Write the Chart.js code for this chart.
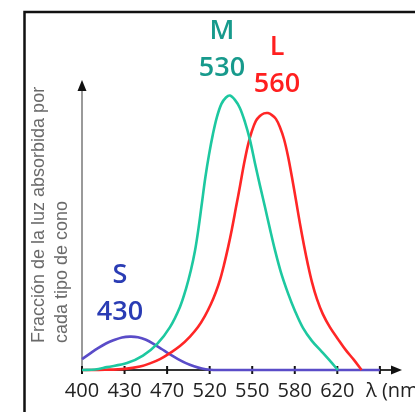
<!DOCTYPE html>
<html>
<head>
<meta charset="utf-8">
<script src="https://cdn.jsdelivr.net/npm/chart.js@4/dist/chart.umd.min.js"></script>
<style>
  html, body { margin: 0; padding: 0; background: #fff; }
  #wrap { width: 415px; height: 412px; }
</style>
</head>
<body>
<div id="wrap"><canvas id="conos"></canvas></div>
<script>
// eje x: marcas con sus longitudes de onda (la ultima no lleva texto)
const tickNm = [400, 430, 470, 520, 550, 580, 620, 660];
const tickLabels = ["400", "430", "470", "520", "550", "580", "620", ""];

// cono S (azul)
const sNm = [400, 405.6, 411.3, 416.9, 422.6, 428.2, 435.1, 442.6, 450.1, 457.6, 465.2, 473.4, 482.8, 492.1, 501.6, 510.9, 520.2, 526, 600, 660];
const sVal = [0.038, 0.057, 0.076, 0.092, 0.104, 0.113, 0.116, 0.114, 0.105, 0.09, 0.072, 0.054, 0.038, 0.024, 0.013, 0.005, 0.001, 0, 0, 0];

// cono M (verde)
const mNm = [400, 409.2, 417.6, 432.3, 447.3, 460.5, 473.4, 485.1, 492.1, 498, 502.7, 506.8, 510.9, 515, 519.2, 522.3, 525.1, 528.3, 531.5, 534.3, 537.8, 541.3, 544.9, 548.4, 551.9, 555.4, 559, 562.5, 566, 570.2, 575.2, 580.2, 587.7, 596.1, 605.5, 614, 620.5];
const mVal = [0, 0.002, 0.01, 0.024, 0.05, 0.09, 0.149, 0.219, 0.281, 0.347, 0.413, 0.49, 0.58, 0.67, 0.747, 0.819, 0.878, 0.924, 0.946, 0.953, 0.938, 0.91, 0.861, 0.799, 0.719, 0.642, 0.566, 0.49, 0.417, 0.34, 0.267, 0.205, 0.146, 0.101, 0.063, 0.028, 0];

// cono L (rojo)
const lNm = [400, 416.2, 430.4, 444.5, 453.9, 463.3, 473.4, 485.1, 496.9, 506.3, 514.5, 520.9, 524.4, 527.3, 530.1, 532.9, 535.7, 538.5, 541.4, 544.2, 547, 549.8, 552.6, 555.4, 558.3, 561.1, 563.9, 566.7, 569.5, 572.4, 575.2, 578, 581.1, 584.8, 588.6, 592.4, 596.1, 600.8, 606.4, 613, 620.5, 628, 635.6, 642.8];
const lVal = [0, 0.001, 0.004, 0.012, 0.023, 0.038, 0.059, 0.083, 0.116, 0.149, 0.188, 0.229, 0.271, 0.313, 0.365, 0.424, 0.49, 0.563, 0.639, 0.715, 0.781, 0.83, 0.865, 0.882, 0.891, 0.892, 0.885, 0.872, 0.844, 0.802, 0.743, 0.67, 0.59, 0.51, 0.434, 0.365, 0.306, 0.247, 0.194, 0.149, 0.108, 0.069, 0.035, 0];

// etiquetas de los picos
const peakNames = ["S", "M", "L"];
const peakNm = ["430", "530", "560"];

// las marcas del eje estan igual espaciadas, asi que pasamos nm -> posicion de marca
function nmToPos(nm) {
    for (let i = 0; i < tickNm.length - 1; i++) {
        if (nm <= tickNm[i + 1]) {
            return i + (nm - tickNm[i]) / (tickNm[i + 1] - tickNm[i]);
        }
    }
    return tickNm.length - 1;
}

function toPoints(xs, ys) {
    return xs.map((nm, i) => ({ x: nmToPos(nm), y: ys[i] }));
}

const overlay = {
    id: 'overlay',
    beforeDraw(chart) {
        const ctx = chart.ctx;
        ctx.save();
        ctx.fillStyle = '#fff';
        ctx.fillRect(0, 0, chart.width, chart.height);
        // marco negro
        ctx.strokeStyle = '#111';
        ctx.lineWidth = 2.5;
        ctx.beginPath();
        ctx.moveTo(24.5, 412);
        ctx.lineTo(24.5, 12);
        ctx.lineTo(415, 12);
        ctx.stroke();
        ctx.restore();
    },
    beforeDatasetsDraw(chart) {
        const ctx = chart.ctx;
        const xs = chart.scales.x;
        const ys = chart.scales.y;
        const x0 = xs.getPixelForValue(0);
        const y0 = ys.getPixelForValue(0);
        const yTop = ys.top;
        const xEnd = xs.right;
        ctx.save();

        // eje y
        ctx.strokeStyle = '#9a9a9a';
        ctx.lineWidth = 2;
        ctx.beginPath();
        ctx.moveTo(x0, y0);
        ctx.lineTo(x0, yTop + 6);
        ctx.stroke();
        ctx.fillStyle = '#111';
        ctx.beginPath();
        ctx.moveTo(x0, yTop - 2);
        ctx.lineTo(x0 - 4.5, yTop + 9);
        ctx.lineTo(x0 + 4.5, yTop + 9);
        ctx.closePath();
        ctx.fill();

        // eje x
        ctx.strokeStyle = '#333';
        ctx.beginPath();
        ctx.moveTo(x0, y0);
        ctx.lineTo(xEnd - 6, y0);
        ctx.stroke();
        ctx.beginPath();
        ctx.moveTo(xEnd, y0);
        ctx.lineTo(xEnd - 11, y0 - 4.5);
        ctx.lineTo(xEnd - 11, y0 + 4.5);
        ctx.closePath();
        ctx.fill();

        // marcas y textos
        ctx.lineWidth = 2;
        ctx.strokeStyle = '#111';
        ctx.font = '20px "Open Sans"';
        ctx.fillStyle = '#222';
        ctx.textAlign = 'center';
        ctx.textBaseline = 'middle';
        tickNm.forEach((nm, i) => {
            const px = xs.getPixelForValue(i);
            ctx.beginPath();
            ctx.moveTo(px, y0 - 4);
            ctx.lineTo(px, y0 + 4);
            ctx.stroke();
            if (tickLabels[i]) ctx.fillText(tickLabels[i], px, y0 + 21);
        });
        ctx.textAlign = 'left';
        ctx.fillText('λ (nm)', 366, y0 + 21);

        // titulo del eje y
        ctx.fillStyle = '#6a6a6a';
        ctx.font = '18px "Liberation Sans"';
        ctx.save();
        ctx.translate(39, 343);
        ctx.rotate(-Math.PI / 2);
        ctx.fillText('Fracción de la luz absorbida por', 0, 0);
        ctx.restore();
        ctx.save();
        ctx.translate(62, 343);
        ctx.rotate(-Math.PI / 2);
        ctx.fillText('cada tipo de cono', 0, 0);
        ctx.restore();

        ctx.restore();
    },
    afterDraw(chart) {
        const ctx = chart.ctx;
        ctx.save();
        ctx.textAlign = 'center';
        ctx.textBaseline = 'middle';
        ctx.font = '600 27px "Open Sans"';
        const spots = [
            { c: '#2a3cb4', x: 120, y1: 275, y2: 312 },
            { c: '#179a8c', x: 222, y1: 31, y2: 68 },
            { c: '#ff1f1f', x: 277, y1: 47, y2: 84 }
        ];
        spots.forEach((s, i) => {
            ctx.fillStyle = s.c;
            ctx.fillText(peakNames[i], s.x, s.y1);
            ctx.fillText(peakNm[i], s.x, s.y2);
        });
        ctx.restore();
    }
};

const ctx = document.getElementById('conos').getContext('2d');
const conosChart = new Chart(ctx, {
    type: 'line',
    data: {
        datasets: [
            {
                label: 'M',
                data: toPoints(mNm, mVal),
                borderColor: '#1dc8a0',
                borderWidth: 2.6,
            },
            {
                label: 'L',
                data: toPoints(lNm, lVal),
                borderColor: '#ff2626',
                borderWidth: 2.6,
            },
            {
                label: 'S',
                data: toPoints(sNm, sVal),
                borderColor: '#5a4cc8',
                borderWidth: 2.6,
            },
        ],
    },
    options: {
        responsive: true,
        maintainAspectRatio: false,
        animation: false,
        events: [],
        layout: { padding: { left: 82, top: 82, right: 13, bottom: 42 } },
        elements: {
            point: { radius: 0 },
            line: { tension: 0.35, fill: false },
        },
        clip: false,
        plugins: {
            legend: { display: false },
            tooltip: { enabled: false },
        },
        scales: {
            x: { type: 'linear', min: 0, max: 7.52, display: false },
            y: { type: 'linear', min: 0, max: 1, display: false },
        },
    },
    plugins: [overlay],
});
</script>
</body>
</html>
